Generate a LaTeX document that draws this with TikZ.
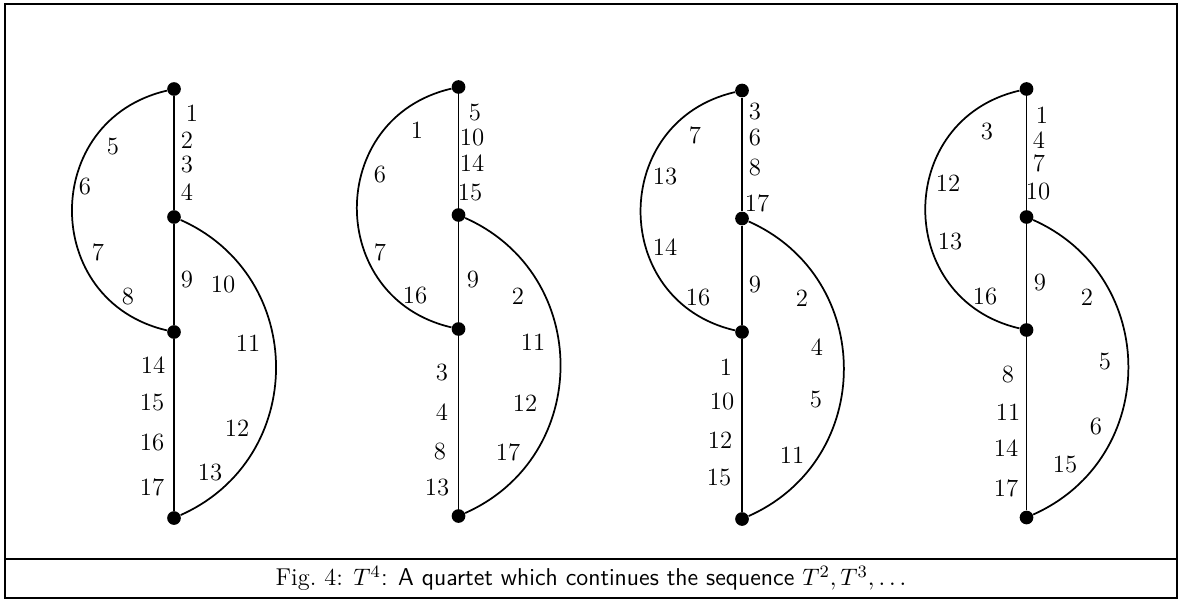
\documentclass[tikz,border=0pt]{standalone}
\usepackage{tikz}

\begin{document}
\begin{tikzpicture}[
  x=0.46pt, y=-0.46pt,
  %% style definitions
  vtx/.style  = {circle, fill=black, inner sep=0pt, minimum size=6.3pt},
  wire/.style = {line width=0.8pt},
  larc/.style = {out=193, in=167, looseness=1.39},
  rarc/.style = {out=-24, in=24, looseness=1.21},
  num/.style  = {inner sep=0pt, font=\fontsize{11.4}{13.7}\selectfont},
  capt/.style = {inner sep=0pt, font=\fontsize{11.2}{13.5}\selectfont},
]
\useasboundingbox (0,0) rectangle (1184,601);

%% ── Frame and caption band ───────────────────────────────────────────────────
\draw[wire] (5,4) rectangle (1177,598);
\draw[wire] (5,559) -- (1177,559);
\node[capt] (cap) at (591,578.5)
  {Fig.~4: $T^4$\textsf{: A quartet which continues the sequence} $T^2,T^3,\ldots$};

%% ── First graph ──────────────────────────────────────────────────────────────
\node[vtx] (top1) at (174,89)  {};
\node[vtx] (up1)  at (174,217) {};
\node[vtx] (low1) at (174,332) {};
\node[vtx] (bot1) at (174,518) {};

\draw[wire] (top1) -- (up1);
\draw[wire] (up1)  -- (low1);
\draw[wire] (low1) -- (bot1);
\draw[wire] (top1) to[larc] (low1);
\draw[wire] (up1)  to[rarc] (bot1);

\node[num] (g1x1)  at (192,113) {1};
\node[num] (g1x2)  at (187,140) {2};
\node[num] (g1x3)  at (187,165) {3};
\node[num] (g1x4)  at (187,192) {4};
\node[num] (g1x5)  at (113,147) {5};
\node[num] (g1x6)  at (85,187)  {6};
\node[num] (g1x7)  at (98,252)  {7};
\node[num] (g1x8)  at (128,297) {8};
\node[num] (g1x9)  at (187,280) {9};
\node[num] (g1x10) at (223,285) {10};
\node[num] (g1x11) at (248,343) {11};
\node[num] (g1x12) at (237,428) {12};
\node[num] (g1x13) at (210,473) {13};
\node[num] (g1x14) at (153,365) {14};
\node[num] (g1x15) at (152,403) {15};
\node[num] (g1x16) at (152,443) {16};
\node[num] (g1x17) at (152,487) {17};

%% ── Second graph ─────────────────────────────────────────────────────────────
\node[vtx] (top2) at (458.5,87)  {};
\node[vtx] (up2)  at (458.5,215) {};
\node[vtx] (low2) at (458.5,329) {};
\node[vtx] (bot2) at (458.5,516) {};

\draw[wire] (top2) -- (up2);
\draw[wire] (up2)  -- (low2);
\draw[wire] (low2) -- (bot2);
\draw[wire] (top2) to[larc] (low2);
\draw[wire] (up2)  to[rarc] (bot2);

\node[num] (g2x5)  at (475,113) {5};
\node[num] (g2x10) at (472,138) {10};
\node[num] (g2x14) at (472,163) {14};
\node[num] (g2x15) at (470,193) {15};
\node[num] (g2x1)  at (417,130) {1};
\node[num] (g2x6)  at (380,175) {6};
\node[num] (g2x7)  at (380,252) {7};
\node[num] (g2x16) at (415,296) {16};
\node[num] (g2x9)  at (473,280) {9};
\node[num] (g2x2)  at (518,296) {2};
\node[num] (g2x11) at (533,342) {11};
\node[num] (g2x12) at (525,403) {12};
\node[num] (g2x17) at (508,452) {17};
\node[num] (g2x3)  at (442,373) {3};
\node[num] (g2x4)  at (442,412) {4};
\node[num] (g2x8)  at (440,452) {8};
\node[num] (g2x13) at (437,488) {13};

%% ── Third graph ──────────────────────────────────────────────────────────────
\node[vtx] (top3) at (742,90.5) {};
\node[vtx] (up3)  at (742,218.5) {};
\node[vtx] (low3) at (742,332) {};
\node[vtx] (bot3) at (742,519) {};

\draw[wire] (top3) -- (up3);
\draw[wire] (up3)  -- (low3);
\draw[wire] (low3) -- (bot3);
\draw[wire] (top3) to[larc] (low3);
\draw[wire] (up3)  to[rarc] (bot3);

\node[num] (g3x3)  at (755,112) {3};
\node[num] (g3x6)  at (755,138) {6};
\node[num] (g3x8)  at (755,168) {8};
\node[num] (g3x17) at (757,203) {17};
\node[num] (g3x7)  at (695,135) {7};
\node[num] (g3x13) at (665,177) {13};
\node[num] (g3x14) at (665,247) {14};
\node[num] (g3x16) at (698,298) {16};
\node[num] (g3x9)  at (755,285) {9};
\node[num] (g3x2)  at (802,298) {2};
\node[num] (g3x4)  at (817,347) {4};
\node[num] (g3x5)  at (816,400) {5};
\node[num] (g3x11) at (792,455) {11};
\node[num] (g3x1)  at (726,367) {1};
\node[num] (g3x10) at (722,402) {10};
\node[num] (g3x12) at (720,440) {12};
\node[num] (g3x15) at (719,478) {15};

%% ── Fourth graph ─────────────────────────────────────────────────────────────
\node[vtx] (top4) at (1026.5,89)  {};
\node[vtx] (up4)  at (1026.5,217) {};
\node[vtx] (low4) at (1026.5,330) {};
\node[vtx] (bot4) at (1026.5,517.5) {};

\draw[wire] (top4) -- (up4);
\draw[wire] (up4)  -- (low4);
\draw[wire] (low4) -- (bot4);
\draw[wire] (top4) to[larc] (low4);
\draw[wire] (up4)  to[rarc] (bot4);

\node[num] (g4x1)  at (1042,115) {1};
\node[num] (g4x4)  at (1039,140) {4};
\node[num] (g4x7)  at (1039,163) {7};
\node[num] (g4x10) at (1038,192) {10};
\node[num] (g4x3)  at (987,132)  {3};
\node[num] (g4x12) at (948,183)  {12};
\node[num] (g4x13) at (950,242)  {13};
\node[num] (g4x16) at (985,297)  {16};
\node[num] (g4x9)  at (1040,283) {9};
\node[num] (g4x2)  at (1087,297) {2};
\node[num] (g4x5)  at (1105,362) {5};
\node[num] (g4x6)  at (1096,427) {6};
\node[num] (g4x15) at (1065,465) {15};
\node[num] (g4x8)  at (1008,375) {8};
\node[num] (g4x11) at (1008,412) {11};
\node[num] (g4x14) at (1006,448) {14};
\node[num] (g4x17) at (1006,488) {17};

\end{tikzpicture}
\end{document}
